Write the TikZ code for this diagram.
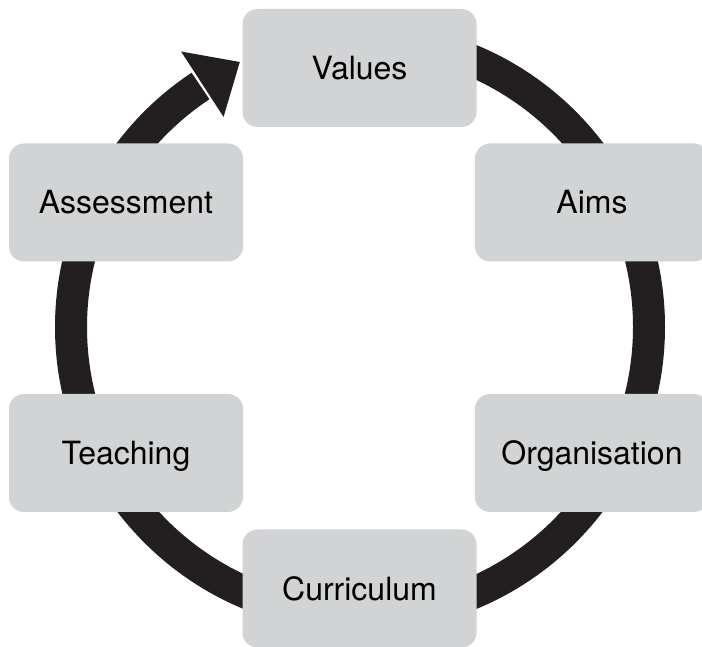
\documentclass[tikz,border=0pt]{standalone}
\usepackage{fontspec}
\setmainfont{TeX Gyre Heros}
\definecolor{boxgray}{HTML}{D1D3D4}
\definecolor{ringblack}{HTML}{231F20}
\tikzset{
  stagebox/.style={rectangle, rounded corners=15pt, fill=boxgray, draw=none,
    minimum width=234pt, minimum height=118pt, inner sep=0pt,
    text height=23pt, text depth=0pt,
    font=\fontsize{32}{38}\selectfont, text=black},
  ring/.style={draw=ringblack, line width=32pt},
  ringhead/.style={fill=ringblack, draw=none}
}
\begin{document}
\begin{tikzpicture}[x=1pt,y=1pt]
\useasboundingbox (0,0) rectangle (702,646);
\coordinate (c) at (360,319);
% ring (clockwise from Values round to the arrow head)
\draw[ring] ([shift={(90:289)}]c) arc[start angle=90, end angle=-236.5, radius=289];
% arrow head
\fill[ringhead] ([shift={(123:328.5)}]c) -- ([shift={(114.4:291)}]c) -- ([shift={(123:250.5)}]c) -- cycle;
% stages
\node[stagebox] (values) at (359.5,578) {Values};
\node[stagebox] (aims) at (592,443.5) {Aims};
\node[stagebox] (organisation) at (592,193) {Organisation};
\node[stagebox] (curriculum) at (359.5,57.5) {Curriculum};
\node[stagebox] (teaching) at (126,193) {Teaching};
\node[stagebox] (assessment) at (126,443.5) {Assessment};
\end{tikzpicture}
\end{document}
